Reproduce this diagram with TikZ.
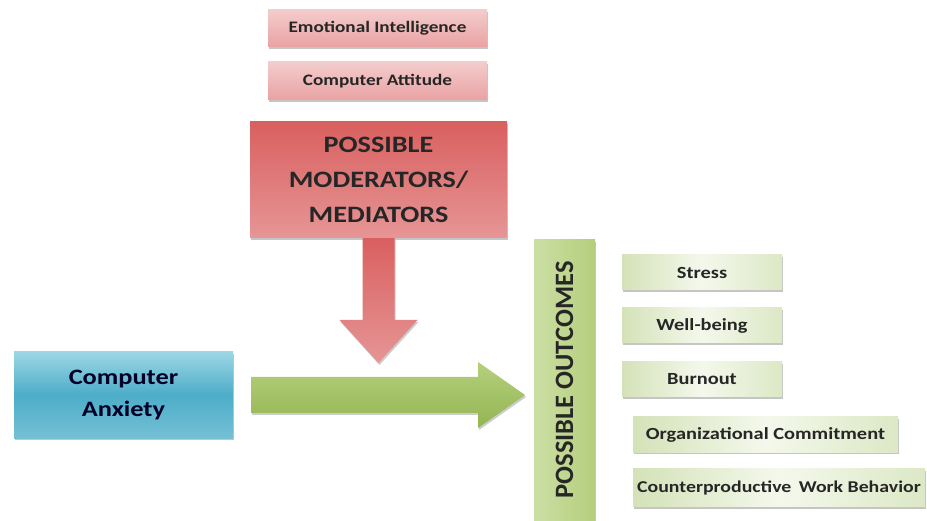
\documentclass[tikz,border=0pt]{standalone}
\usepackage{fontspec}
\setmainfont{Carlito}[FakeStretch=1.2]
\newfontfamily\vertfont{Carlito}[FakeStretch=1.0]
\usetikzlibrary{shadows,calc}
\definecolor{txt}{HTML}{262626}
\definecolor{pinkA}{HTML}{F4CCCC}
\definecolor{pinkB}{HTML}{E9A2A3}
\definecolor{redA}{HTML}{D9605F}
\definecolor{redB}{HTML}{E69596}
\definecolor{blueA}{HTML}{9CD6E5}
\definecolor{blueM}{HTML}{4DADC8}
\definecolor{blueB}{HTML}{74C0D5}
\definecolor{grnA}{HTML}{B5D07D}
\definecolor{grnB}{HTML}{93B552}
\definecolor{outA}{HTML}{CCDFA4}
\definecolor{outB}{HTML}{B4CE7C}
\definecolor{itemA}{HTML}{D4E2B8}
\definecolor{itemM}{HTML}{F4F8EC}
\definecolor{itemB}{HTML}{DCE8C5}
\begin{document}
\begin{tikzpicture}[x=1pt,y=-1pt,
  box/.style={inner sep=0pt, text=txt, align=center,
    drop shadow={shadow xshift=1pt,shadow yshift=-2pt,opacity=0.45}},
  pinkbox/.style={box, top color=pinkA, bottom color=pinkB,
    minimum width=219pt, minimum height=37pt,
    font=\bfseries\fontsize{16}{18}\selectfont},
  modbox/.style={box, top color=redA, bottom color=redB,
    minimum width=257pt, minimum height=116pt,
    font=\bfseries\fontsize{23.5}{35}\selectfont},
  bluebox/.style={box, top color=blueA, bottom color=blueB, middle color=blueM,
    minimum width=219pt, minimum height=86pt, text=black!85!blue,
    font=\bfseries\fontsize{22}{32}\selectfont},
  outbox/.style={box, left color=outA, right color=outB,
    minimum width=280pt, minimum height=61pt,
    font=\vertfont\bfseries\fontsize{26.5}{28}\selectfont},
  itembox/.style={box, left color=itemA, right color=itemB, middle color=itemM,
    minimum height=35pt, font=\bfseries\fontsize{17}{18}\selectfont},
  arrowshadow/.style={drop shadow={shadow xshift=1pt,shadow yshift=-2pt,opacity=0.4}}
]
\useasboundingbox (0,0) rectangle (927,521);
\fill[white] (0,0) rectangle (927,521);

\node[pinkbox] (ei) at (377.5,28.5) {Emotional Intelligence};
\node[pinkbox, minimum height=38pt] (ca) at (377.5,81) {Computer Attitude};
\node[modbox] (mod) at (378.5,180) {POSSIBLE\\MODERATORS/\\MEDIATORS};
\node[bluebox] (anx) at (123.5,395) {Computer\\Anxiety};
\node[outbox, rotate=90] (out) at (564.5,380) {POSSIBLE OUTCOMES};

\node[itembox, minimum width=160pt] (stress) at (702,272.5) {Stress};
\node[itembox, minimum width=160pt] (well) at (702,325.5) {Well-being};
\node[itembox, minimum width=160pt] (burn) at (702,379.5) {Burnout};
\node[itembox, minimum width=265pt] (org) at (765.5,434.5) {Organizational Commitment};
\node[itembox, minimum width=292pt, minimum height=38pt,
  font=\bfseries\fontsize{16.5}{18}\selectfont] (cwb) at (779,487.5) {Counterproductive\hspace{3pt} Work Behavior};

% down arrow
\coordinate (dtip) at (378.5,363);
\shade[top color=redA, bottom color=redB, arrowshadow]
  ($(mod.south)+(-16,0)$) -- ($(dtip)+(-16,-43)$) -- ($(dtip)+(-39,-43)$) -- (dtip)
  -- ($(dtip)+(39,-43)$) -- ($(dtip)+(16,-43)$) -- ($(mod.south)+(16,0)$) -- cycle;

% right arrow
\coordinate (rtip) at (525,395);
\shade[top color=grnA, bottom color=grnB, arrowshadow]
  ($(anx.east)+(18,-18)$) -- ($(rtip)+(-47,-18)$) -- ($(rtip)+(-47,-33)$) -- (rtip)
  -- ($(rtip)+(-47,33)$) -- ($(rtip)+(-47,18)$) -- ($(anx.east)+(18,18)$) -- cycle;
\end{tikzpicture}
\end{document}
